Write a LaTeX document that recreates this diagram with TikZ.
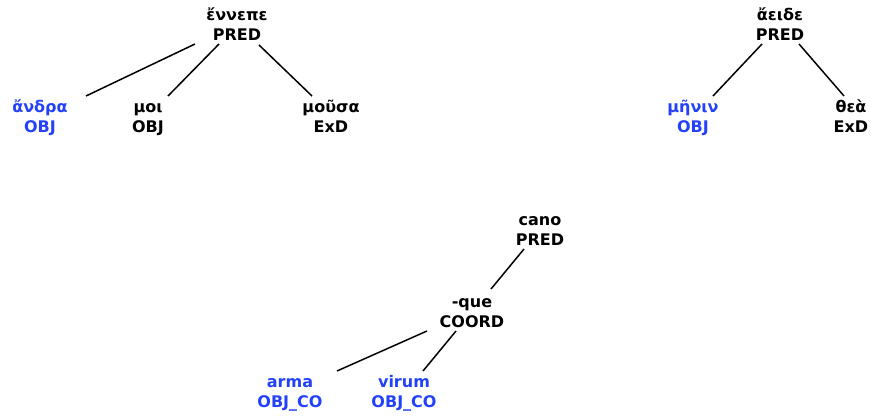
\documentclass[tikz,border=0pt]{standalone}
\usepackage{fontspec}
\setmainfont{DejaVu Sans}
\definecolor{lblue}{RGB}{35,65,250}
\newcommand\twol[2]{\vbox{\baselineskip=20pt\lineskiplimit=-100pt\lineskip=0pt\halign{\hfil##\hfil\cr#1\cr#2\cr}}}
\begin{document}
\begin{tikzpicture}[x=1pt,y=-1pt,
  word/.style={inner sep=0pt,anchor=base,font=\fontsize{16}{20}\selectfont\bfseries},
  objw/.style={word,text=lblue},
  conn/.style={line width=1.5pt}]
\useasboundingbox (0,0) rectangle (880,415);
% tree 1
\node[word] (p1) at (237,40) {\twol{ἔννεπε}{PRED}};
\node[objw] (a1) at (40,132) {\twol{ἄνδρα}{OBJ}};
\node[word] (a2) at (148,132) {\twol{μοι}{OBJ}};
\node[word] (a3) at (331,132) {\twol{μοῦσα}{ExD}};
% tree 2
\node[word] (p2) at (780,40) {\twol{ἄειδε}{PRED}};
\node[objw] (b1) at (693,132) {\twol{μῆνιν}{OBJ}};
\node[word] (b2) at (851,132) {\twol{θεὰ}{ExD}};
% tree 3
\node[word] (p3) at (540,245) {\twol{cano}{PRED}};
\node[word] (q) at (472,327) {\twol{-que}{COORD}};
\node[objw] (c1) at (290,407) {\twol{arma}{OBJ\_CO}};
\node[objw] (c2) at (404,407) {\twol{virum}{OBJ\_CO}};
% connectors
\draw[conn] ([shift={(-42,4)}]p1.base) -- ([shift={(46,-36)}]a1.base);
\draw[conn] ([shift={(-18,4)}]p1.base) -- ([shift={(20,-36)}]a2.base);
\draw[conn] ([shift={(22,5)}]p1.base) -- ([shift={(-19,-36)}]a3.base);
\draw[conn] ([shift={(-18,4)}]p2.base) -- ([shift={(20,-36)}]b1.base);
\draw[conn] ([shift={(19,4)}]p2.base) -- ([shift={(-7,-36)}]b2.base);
\draw[conn] ([shift={(-16,4)}]p3.base) -- ([shift={(19,-38)}]q.base);
\draw[conn] ([shift={(-45,4)}]q.base) -- ([shift={(47,-36)}]c1.base);
\draw[conn] ([shift={(-16,4)}]q.base) -- ([shift={(19,-36)}]c2.base);
\end{tikzpicture}
\end{document}
